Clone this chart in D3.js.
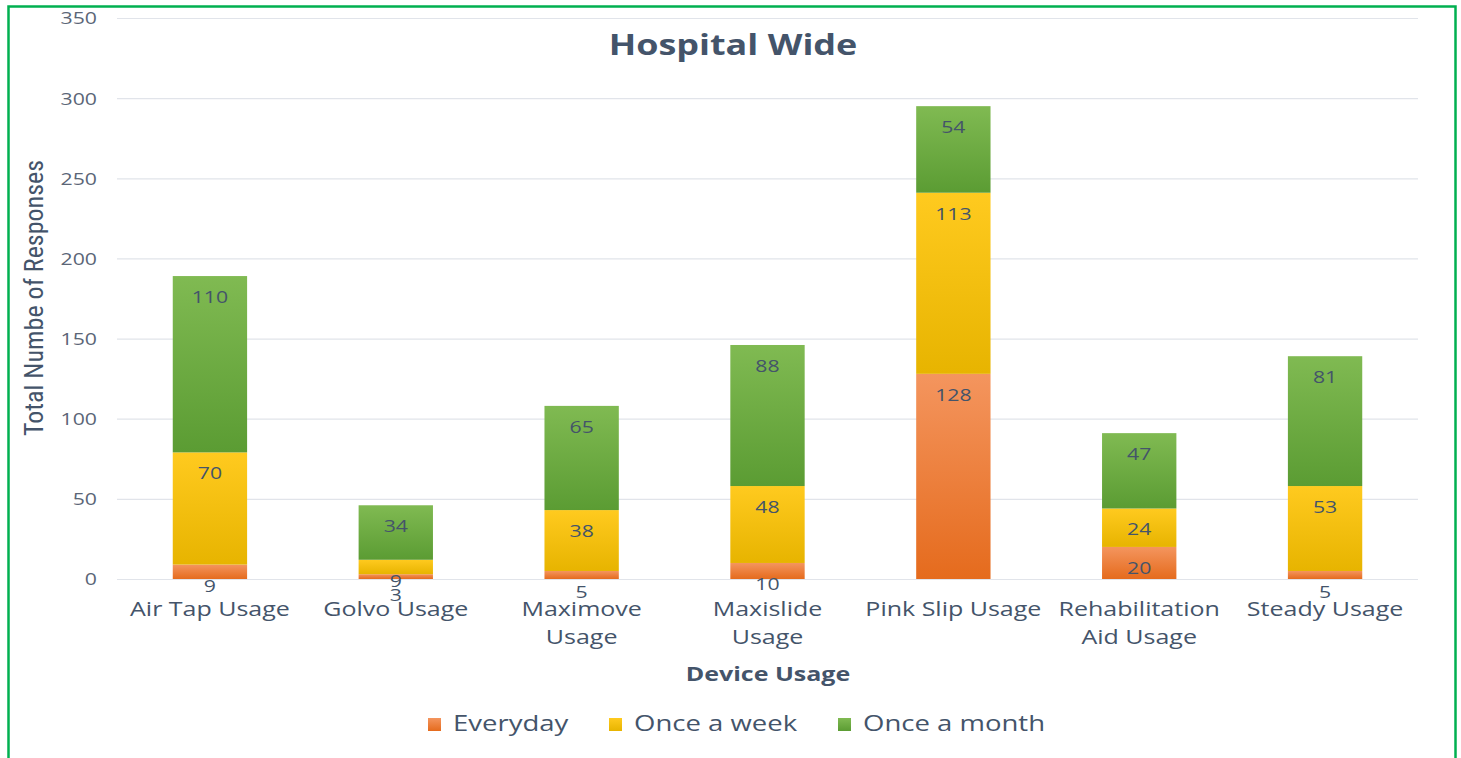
<!DOCTYPE html>
<html><head><meta charset="utf-8">
<script src="https://cdn.jsdelivr.net/npm/d3@7"></script>
<style>
html,body{margin:0;padding:0;background:#fff;}
svg{display:block;}
</style></head>
<body><svg id="c" width="1461" height="758"></svg>
<script>
const categories = [["Air Tap Usage"],["Golvo Usage"],["Maximove","Usage"],["Maxislide","Usage"],["Pink Slip Usage"],["Rehabilitation","Aid Usage"],["Steady Usage"]];
const seriesNames = ["Everyday","Once a week","Once a month"];
const everyday = [9,3,5,10,128,20,5];
const onceAWeek = [70,9,38,48,113,24,53];
const onceAMonth = [110,34,65,88,54,47,81];
const yTicks = [0,50,100,150,200,250,300,350];
const title = "Hospital Wide";
const xTitle = "Device Usage";
const yTitle = "Total Numbe of Responses";

const txt = "#44546a";
const font = "'Open Sans', sans-serif";
const SX = 1.25; // horizontal stretch of the reference's text
const grads = [["#f4955e","#e56b1d"],["#ffca1f","#e7b400"],["#80ba52","#5b9c33"]];

const svg = d3.select("#c");
const defs = svg.append("defs");
grads.forEach((g,i)=>{
  const lg = defs.append("linearGradient").attr("id","g"+i).attr("x1",0).attr("y1",0).attr("x2",0).attr("y2",1);
  lg.append("stop").attr("offset","0%").attr("stop-color",g[0]);
  lg.append("stop").attr("offset","100%").attr("stop-color",g[1]);
});

function stext(parent, cx, cy, str, opts){
  const g = parent.append("g").attr("transform",`translate(${cx},${cy}) scale(${opts.sx||SX},1)`);
  return g.append("text").attr("x",0).attr("y",0).attr("dy","0.35em")
    .attr("text-anchor",opts.anchor||"middle").attr("font-family",opts.family||font)
    .attr("font-size",opts.size).attr("font-weight",opts.weight||"normal")
    .attr("fill",opts.fill||txt).text(str);
}

// clipped heading above the frame (only descenders are visible)
const head = svg.append("text").attr("y",-5).attr("font-family","'Liberation Serif',serif")
  .attr("font-weight","bold").attr("font-size",26).attr("fill","#000").attr("text-anchor","middle");
[[40,"p"],[80,"p"],[248,"p"],[337,"y"]].forEach(([px,ch])=>head.append("tspan").attr("x",px).text(ch));

// frame
svg.append("rect").attr("x",8.5).attr("y",6.5).attr("width",1447).attr("height",800)
  .attr("fill","none").attr("stroke","#00b050").attr("stroke-width",2.5);

const x = d3.scaleBand().domain(d3.range(categories.length)).range([117,1418]).paddingInner(0.6).paddingOuter(0.3);
const y = d3.scaleLinear().domain([0,350]).range([579,18]);

// grid
svg.append("g").selectAll("line").data(yTicks).join("line")
  .attr("x1",117).attr("x2",1418).attr("y1",d=>y(d)+0.5).attr("y2",d=>y(d)+0.5)
  .attr("stroke","#e1e4ea").attr("stroke-width",1.2);

// y axis labels
const yAxis = d3.axisLeft(y).tickValues(yTicks).tickSize(0).tickPadding(0);
const ya = svg.append("g").attr("transform","translate(97,0)").call(yAxis);
ya.select(".domain").remove();
ya.selectAll("text").attr("font-family",font).attr("font-size",17).attr("fill","#5b6677")
  .attr("dy","0.35em").attr("transform",`scale(${SX},1)`);

// stacked data
const rows = categories.map((c,i)=>({i, Everyday:everyday[i], "Once a week":onceAWeek[i], "Once a month":onceAMonth[i]}));
const stack = d3.stack().keys(seriesNames)(rows);

const layers = svg.append("g").selectAll("g").data(stack).join("g").attr("fill",(d,k)=>`url(#g${k})`);
layers.selectAll("rect").data(d=>d).join("rect")
  .attr("x",d=>x(d.data.i)).attr("width",x.bandwidth())
  .attr("y",d=>y(d[1])).attr("height",d=>y(d[0])-y(d[1]));

// data labels (inside end)
const lbl = svg.append("g");
stack.forEach((s)=>{
  s.forEach(d=>{
    stext(lbl, x(d.data.i)+x.bandwidth()/2, y(d[1])+21, d[1]-d[0], {size:17});
  });
});

// x axis labels
const xl = svg.append("g");
categories.forEach((lines,i)=>{
  lines.forEach((l,j)=>stext(xl, x(i)+x.bandwidth()/2, 609+28*j, l, {size:20}));
});

// titles
stext(svg, 733, 45, title, {size:29, weight:"bold", sx:1.24});
stext(svg, 768, 674, xTitle, {size:20, weight:"bold"});
svg.append("text").attr("transform","translate(34,298) rotate(-90)").attr("dy","0.35em").attr("text-anchor","middle")
  .attr("font-family","'Liberation Sans Narrow','Roboto Condensed',sans-serif").attr("font-size",26).attr("fill",txt).text(yTitle);

// legend
const legX = [428,609,838];
const lg = svg.append("g");
seriesNames.forEach((n,k)=>{
  lg.append("rect").attr("x",legX[k]).attr("y",718).attr("width",13).attr("height",13).attr("fill",`url(#g${k})`);
  stext(lg, legX[k]+25, 724, n, {size:21, anchor:"start", sx:1.31});
});
</script></body></html>
